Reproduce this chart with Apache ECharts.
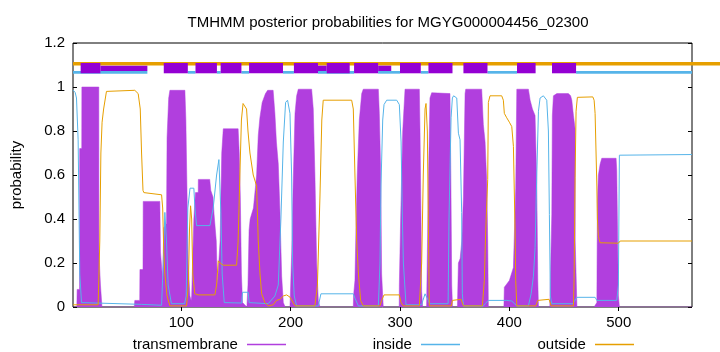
<!DOCTYPE html>
<html><head><meta charset="utf-8">
<script src="https://cdn.jsdelivr.net/npm/echarts@6/dist/echarts.min.js"></script>
<style>html,body{margin:0;padding:0;background:#fff}#c{width:720px;height:352px}</style>
</head><body><div id="c"></div>
<script>
const titleText = 'TMHMM posterior probabilities for MGYG000004456_02300';
const xTicks = [100, 200, 300, 400, 500];
const seqLength = 567;

const tmPoints = [[1,0],[4.5,0],[4.8,0.08],[7,0.08],[7.1,0.72],[9,0.72],[9.1,1.0],[24.6,1.0],[24.7,0.25],[26,0.25],[26.1,0.1],[27,0.1],[27.5,0],
[57,0],[57.5,0.03],[62,0.03],[62.2,0.17],[65,0.17],[65.2,0.48],[80.4,0.48],[81,0.25],[83,0.12],[84,0.36],[86.5,0.38],[87,0.77],[88.5,0.95],[89.6,0.985],[103.3,0.985],[104.2,0.85],[105,0.6],[106.3,0.2],[107.9,0.05],[109,0.03],
[109.5,0.05],[111.5,0.4],[113,0.52],[115.5,0.52],[115.6,0.58],[126,0.58],[127,0.53],[129,0.5],[130,0.42],[132,0.3],[133,0.1],[134,0.1],
[135.5,0.3],[137,0.7],[138.4,0.81],[152,0.81],[153,0.7],[154,0.5],[155,0.15],[156,0.02],[160,0],
[160.5,0],[161,0.1],[162,0.35],[163,0.4],[166,0.45],[168.9,0.6],[170.4,0.78],[171.9,0.86],[174,0.93],[177,0.97],[179,0.985],[184,0.985],[185.6,0.88],[187,0.75],[188.7,0.65],[190.2,0.44],[191.8,0.14],[193.3,0.02],[195,0],
[199.4,0],[201,0.25],[202.4,0.58],[204,0.88],[205.5,0.96],[207,0.99],[219.2,0.99],[220.7,0.9],[222.2,0.6],[223.8,0.2],[225.3,0.03],[226.8,0],
[257.3,0],[257.5,0.05],[258.8,0.12],[259.7,0.35],[260.9,0.6],[262.8,0.85],[265,0.97],[266.4,0.99],[280.2,0.99],[281.1,0.88],[282.4,0.6],[283.2,0.15],[284.7,0],
[299.3,0],[299.4,0.1],[300.6,0.4],[302.5,0.8],[304.6,0.99],[317.7,0.99],[318.3,0.8],[319.2,0.4],[319.8,0.07],[320.7,0],
[324.3,0],[324.4,0.03],[325.9,0.55],[327.4,0.95],[329,0.974],[345.7,0.97],[346.5,0.6],[347.3,0.1],[348,0],
[352.5,0],[353.4,0.2],[355,0.22],[356.5,0.3],[358,0.5],[359.5,0.97],[360.1,0.99],[374.7,0.99],[376.2,0.83],[377.8,0.75],[379.3,0.57],[380.2,0.3],[380.8,0],
[395,0],[395.4,0.09],[400,0.12],[403.7,0.18],[405.8,0.54],[406.8,0.99],[417.4,0.99],[419,0.94],[421.1,0.9],[423.5,0.87],[425,0.58],[426,0.12],[426.6,0],
[437,0],[437.2,0.05],[438.8,0.42],[439.3,0.87],[440.3,0.96],[443.4,0.97],[454,0.97],[456,0.96],[457.1,0.94],[458.6,0.87],[460.1,0.81],[460.2,0.3],[461.7,0.3],[461.8,0],
[477.5,0],[480,0.02],[480.5,0.48],[481.4,0.6],[483,0.65],[484.5,0.676],[497.6,0.676],[498.2,0.62],[499.7,0.05],[500.6,0],[567,0]];

const insidePoints = [[1,0.986],[3,0.975],[4.2,0.95],[5.7,0.76],[7.2,0.15],[8.8,0.02],[10,0.012],[63.7,0.012],[65,0.008],[82,0.008],[83.5,0.2],[85,0.43],[86.5,0.3],[88,0.1],[91,0.015],[103,0.015],[104.5,0.05],[106,0.45],[108,0.54],[111.5,0.54],[112.5,0.45],[114,0.37],[126.2,0.37],[129.2,0.45],[132.3,0.6],[134.4,0.67],[136.2,0.43],[137.4,0.15],[139.3,0.02],[155.2,0.018],[156,0.067],[161.2,0.067],[162.1,0.02],[179.5,0.015],[185.6,0.05],[188.7,0.1],[191.1,0.4],[193.3,0.75],[195.4,0.93],[197.2,0.94],[199.4,0.88],[200.9,0.6],[201.8,0.2],[203.3,0.05],[205.5,0.005],[225.3,0.005],[227.7,0.06],[257.3,0.06],[258.8,0.04],[261.9,0.005],[280.2,0.005],[281.7,0.2],[282.6,0.55],[284.2,0.85],[285.4,0.92],[287.8,0.94],[297,0.94],[299.4,0.92],[301,0.75],[302.2,0.4],[303.1,0.2],[305.5,0.01],[319.8,0.01],[321,0.03],[322.9,0.06],[324.5,0.06],[325.9,0.03],[327,0.015],[344,0.015],[344.8,0.4],[346.7,0.86],[347.9,0.95],[349,0.96],[351.9,0.95],[353.4,0.79],[354.9,0.76],[356.4,0.43],[357,0.06],[358,0.005],[376.2,0.005],[378,0.015],[380.8,0.03],[397.6,0.03],[402.2,0.027],[406.8,0.005],[417.4,0.005],[419.9,0.06],[422,0.14],[423.5,0.27],[425,0.59],[426.6,0.89],[428.1,0.95],[431.1,0.96],[434.2,0.94],[435.7,0.8],[436.6,0.42],[437.5,0.05],[438.8,0.015],[458,0.015],[459.5,0.025],[461.7,0.044],[478.4,0.044],[480,0.03],[498.2,0.03],[499.7,0.1],[500.6,0.69],[501.3,0.693],[567,0.693]];

const outsidePoints = [[1,0.01],[24,0.01],[25.5,0.3],[26.5,0.7],[27.6,0.84],[29,0.9],[31.6,0.98],[57.5,0.985],[60.6,0.97],[62.5,0.9],[63.7,0.7],[65,0.53],[65.8,0.52],[82,0.51],[83,0.45],[84,0.25],[85,0.15],[87,0.05],[89.6,0.005],[104.8,0.005],[106.5,0.1],[107.5,0.35],[108.5,0.46],[109.5,0.4],[110.5,0.15],[112.4,0.06],[115.5,0.055],[130.7,0.055],[132.3,0.1],[133.8,0.21],[135.5,0.2],[138.4,0.19],[150.6,0.19],[152,0.3],[153.6,0.6],[155,0.85],[156.5,0.925],[158.2,0.93],[159.7,0.9],[161,0.8],[162.8,0.7],[165.8,0.6],[168.9,0.55],[170.4,0.3],[172,0.15],[173.5,0.06],[176.5,0.02],[179.5,0.005],[184,0.01],[187,0.03],[190.2,0.035],[193.3,0.05],[196.3,0.055],[199.4,0.045],[200.9,0.04],[204,0.005],[222.2,0.005],[224.5,0.1],[226.8,0.5],[228.5,0.85],[229.8,0.94],[255.8,0.94],[257.3,0.9],[258.8,0.6],[260.4,0.3],[262,0.15],[264,0.03],[266.4,0.005],[281.7,0.005],[283.2,0.03],[285.4,0.055],[299.4,0.055],[301,0.02],[303,0.005],[317.7,0.005],[319.8,0.2],[321.3,0.6],[322.9,0.9],[323.8,0.925],[325,0.8],[325.9,0.4],[326.8,0.005],[347,0.005],[347.9,0.03],[349,0.035],[355.8,0.035],[358,0.005],[375.3,0.005],[377.1,0.12],[378.4,0.35],[380.2,0.58],[380.8,0.93],[382.3,0.96],[393,0.96],[394.5,0.94],[395.4,0.88],[397.6,0.86],[400,0.84],[402.2,0.82],[403.7,0.73],[405.2,0.35],[405.8,0.12],[406.8,0.005],[424.2,0.005],[426,0.03],[436.3,0.035],[438.2,0.005],[458.6,0.005],[459.2,0.13],[460.1,0.59],[461,0.89],[462.2,0.953],[476.3,0.955],[477.5,0.94],[478.4,0.88],[480,0.55],[480.5,0.4],[481.4,0.32],[483,0.292],[499.7,0.29],[501.3,0.3],[567,0.3]];

// topology strip (residue ranges)
const outsideSegments = [[1, 593]];
const insideSegments = [[1,69],[106,113],[132.6,136],[155,162],[193,203],[225,258],[280,300],[319,326],[380,407],[461,567]];
const tmThinSegments = [[26,69],[225,233],[280,292]];
const tmSegments = [[8,26],[84,106],[113,132.6],[136,155],[162,193],[203,225],[233,254],[258,280],[300,319],[326,348],[358,380],[407,424],[439,461]];

const FONT = 'Liberation Sans, Arial, sans-serif';
const FS = 15;
const PURPLE = '#B13FDE', DARKPURPLE = '#9400D3', BLUE = '#56B4E9', ORANGE = '#E69F00';

function rectSeries(data, yLow, yHigh, color, z) {
  return {
    type: 'custom', data: data, z: z, clip: false, silent: true,
    encode: { x: [0, 1] },
    renderItem: function (params, api) {
      const p0 = api.coord([api.value(0), yHigh]);
      const p1 = api.coord([api.value(1), yLow]);
      return { type: 'rect', shape: { x: p0[0], y: p0[1], width: p1[0] - p0[0], height: p1[1] - p0[1] }, style: { fill: color } };
    }
  };
}
function legendFor(name, right) {
  return { data: [name], right: right, top: 332, align: 'right', icon: 'rect', itemWidth: 39, itemHeight: 1.5,
    formatter: n => n + ' ', textStyle: { fontFamily: FONT, fontSize: FS, color: '#000' } };
}

const chart = echarts.init(document.getElementById('c'), null, { renderer: 'canvas' });
const axisCommon = { axisLine: { show: false }, splitLine: { show: false } };
chart.setOption({
  animation: false,
  backgroundColor: '#fff',
  textStyle: { fontFamily: FONT },
  title: { text: titleText, left: 383, top: 10, textAlign: 'center',
    textStyle: { fontFamily: FONT, fontSize: FS, fontWeight: 'normal', color: '#000' } },
  grid: { left: 73, right: 28, top: 43, bottom: 45, show: true, borderColor: '#000', borderWidth: 1, backgroundColor: 'transparent' },
  legend: [ legendFor('transmembrane', 429), legendFor('inside', 255), legendFor('outside', 81) ],
  xAxis: [
    Object.assign({ type: 'value', min: 1, max: seqLength, position: 'bottom',
      axisTick: { inside: true, length: 4, customValues: xTicks, lineStyle: { color: '#000' } },
      axisLabel: { customValues: xTicks, color: '#000', fontSize: FS, fontFamily: FONT, margin: 8 } }, axisCommon),
    Object.assign({ type: 'value', min: 1, max: seqLength, position: 'top',
      axisTick: { inside: true, length: 4, customValues: xTicks, lineStyle: { color: '#000' } },
      axisLabel: { show: false } }, axisCommon)
  ],
  yAxis: [
    Object.assign({ type: 'value', min: 0, max: 1.2, interval: 0.2, position: 'left',
      name: 'probability', nameLocation: 'middle', nameGap: 49, nameRotate: 90,
      nameTextStyle: { fontFamily: FONT, fontSize: FS, color: '#000' },
      axisTick: { inside: true, length: 4, lineStyle: { color: '#000' } },
      axisLabel: { color: '#000', fontSize: FS, fontFamily: FONT, margin: 8 } }, axisCommon),
    Object.assign({ type: 'value', min: 0, max: 1.2, interval: 0.2, position: 'right',
      axisTick: { inside: true, length: 4, lineStyle: { color: '#000' } },
      axisLabel: { show: false } }, axisCommon)
  ],
  series: [
    { name: 'transmembrane', type: 'line', data: tmPoints, symbol: 'none', color: PURPLE,
      lineStyle: { width: 0.5, color: PURPLE }, areaStyle: { color: PURPLE, opacity: 1 }, z: 2 },
    { name: 'inside', type: 'line', data: insidePoints, symbol: 'none', color: BLUE,
      lineStyle: { width: 1, color: BLUE }, z: 3 },
    { name: 'outside', type: 'line', data: outsidePoints, symbol: 'none', color: ORANGE,
      lineStyle: { width: 1, color: ORANGE }, z: 3 },
    rectSeries(outsideSegments, 1.0977, 1.1136, ORANGE, 4),
    rectSeries(insideSegments, 1.0605, 1.0727, BLUE, 4),
    rectSeries(tmThinSegments, 1.0727, 1.097, DARKPURPLE, 5),
    rectSeries(tmSegments, 1.0623, 1.109, DARKPURPLE, 5)
  ]
});
</script>
</body></html>
